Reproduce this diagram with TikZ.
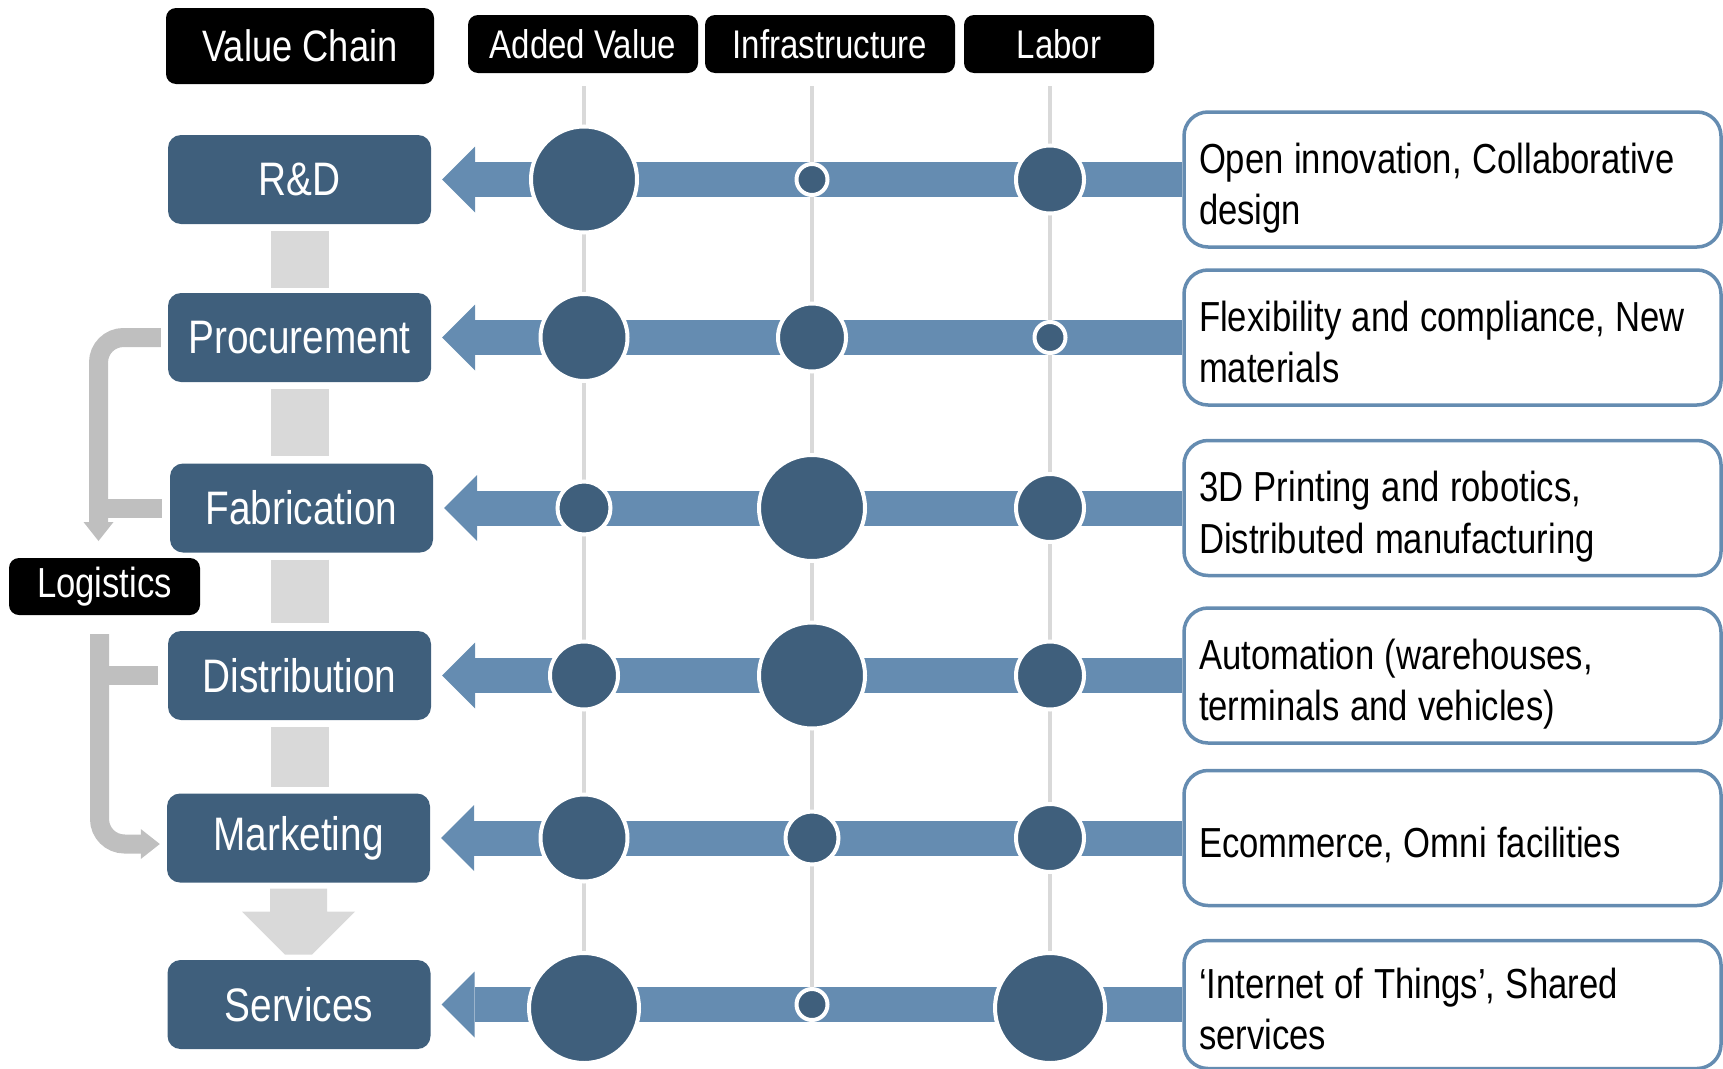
\documentclass[tikz,border=0pt]{standalone}
\usepackage{fontspec}
\setmainfont{Liberation Sans}[FakeStretch=0.825]
\usetikzlibrary{arrows.meta, calc}
\definecolor{stageblue}{HTML}{3F5F7C}
\definecolor{barblue}{HTML}{658CB1}
\definecolor{linkgray}{HTML}{D9D9D9}
\definecolor{loggray}{HTML}{BFBFBF}
\newcommand{\notefont}{\fontsize{42}{51.6}\selectfont}
\newcommand{\notelift}[1]{\spaceskip=0.25em\relax\xspaceskip=0.25em\relax\rule{0pt}{#1}}
\tikzset{
hdr/.style={fill=black, text=white, rounded corners=10pt, inner sep=0pt, minimum height=58pt, font=\fontsize{40}{48}\selectfont}, % black title boxes
stage/.style={fill=stageblue, text=white, rounded corners=13pt, inner sep=0pt, minimum width=263pt, minimum height=89pt, font=\fontsize{47}{56}\selectfont}, % value chain steps
note/.style={draw=barblue, line width=3.5pt, fill=white, rounded corners=24pt, minimum height=135pt, text width=507pt, inner xsep=15pt, align=left, font=\notefont,
  execute at begin node={\notelift{49pt}}, execute at end node={\rule[-10pt]{0pt}{10pt}}}, % text boxes on the right
dot/.style={circle, fill=stageblue, draw=white, line width=4pt, inner sep=0pt, minimum size=#1}, % impact circles
flowbar/.style={barblue, line width=35pt, -{Triangle[length=33pt, width=66pt, line width=0pt]}, shorten >=11pt},
vline/.style={linkgray, line width=4pt},
link/.style={linkgray, line width=58pt},
logi/.style={loggray, line width=19pt, rounded corners=25pt},
logitip/.style={-{Triangle[length=19pt, width=30pt, line width=0pt]}},
}

\begin{document}
\begin{tikzpicture}[x=1pt, y=-1pt]
\useasboundingbox (0,0) rectangle (1723,1068);

% column guides
\coordinate (av-top) at (584,86);
\coordinate (av-bot) at (584,1004.5);
\coordinate (inf-top) at (812,86);
\coordinate (inf-bot) at (812,1004.5);
\coordinate (lab-top) at (1050,86);
\coordinate (lab-bot) at (1050,1004.5);
\draw[vline] (av-top) -- (av-bot);
\draw[vline] (inf-top) -- (inf-bot);
\draw[vline] (lab-top) -- (lab-bot);

% headers
\node[hdr, minimum width=268pt, minimum height=76pt, font=\fontsize{44}{52}\selectfont] at (300,46) (vc) {Value Chain};
\node[hdr, minimum width=230pt] at (583,44) (av) {Added Value};
\node[hdr, minimum width=250pt] at (830,44) (inf) {Infrastructure};
\node[hdr, minimum width=190pt] at (1059,44) (lab) {Labor};
\node[hdr, minimum width=191pt, minimum height=57pt, font=\fontsize{42}{50}\selectfont] at (104.5,586.5) (lg) {Logistics};

% value chain steps
\node[stage] at (299.5,179.5) (rd) {R\&D};
\node[stage] at (299.5,337.5) (pr) {Procurement};
\node[stage] at (301.5,508) (fa) {Fabrication};
\node[stage] at (299.5,675.5) (di) {Distribution};
\node[stage] at (298.5,838) (mk) {Marketing};
\node[stage] at (299,1004.5) (sv) {Services};

% notes
\node[note] at (1452.5,179.5) (nrd) {Open innovation, Collaborative design};
\node[note] at (1452.5,337.5) (npr) {Flexibility and compliance, New materials};
\node[note] at (1452.5,508) (nfa) {3D Printing and robotics,\\Distributed manufacturing};
\node[note] at (1452.5,675.5) (ndi) {Automation (warehouses,\\terminals and vehicles)};
\node[note, execute at begin node={\notelift{38pt}}] at (1452.5,838) (nmk) {Ecommerce, Omni facilities};
\node[note, minimum height=128pt] at (1452.5,1004.5) (nsv) {‘Internet of Things’, Shared services};

% links between steps
\draw[link, shorten <=7pt, shorten >=5pt] (rd.south) -- (rd.south |- pr.north);
\draw[link, shorten <=7pt, shorten >=7pt] (pr.south) -- (pr.south |- fa.north);
\draw[link, shorten <=7pt, shorten >=8pt] (fa.south -| di.north) -- (di.north);
\draw[link, shorten <=7pt, shorten >=6pt] (di.south) -- (di.south |- mk.north);
\fill[linkgray] ($(mk.south)+(-28.5,6)$) -- ++(57,0) -- ++(0,23) -- ++(28,0) -- ++(-43,43)
  -- ++(-27,0) -- ++(-43,-43) -- ++(28,0) -- cycle;

% logistics brackets
\coordinate (lg-in) at (98.5,541);
\coordinate (lg-out) at (99.5,634);
\draw[logi, logitip, shorten <=7pt] (pr.west) -| (lg-in);
\draw[logi, shorten <=8pt] (fa.west) -- (fa.west -| lg-in);
\draw[logi, logitip, shorten >=7pt] (lg-out) |- ($(mk.west)+(0,6)$);
\draw[logi, shorten <=10pt] (di.west) -- (di.west -| lg-out);

% flows
\draw (nrd) edge[flowbar] (rd);
\draw (npr) edge[flowbar] (pr);
\draw (nfa) edge[flowbar] (fa);
\draw (ndi) edge[flowbar] (di);
\draw (nmk) edge[flowbar] (mk);
\draw (nsv) edge[flowbar] (sv);

% impact circles
\node[dot=106pt] at (584,179.5) (rd-av) {};
\node[dot=31pt] at (812,179.5) (rd-inf) {};
\node[dot=68pt] at (1050,179.5) (rd-lab) {};
\node[dot=87pt] at (584,337.5) (pr-av) {};
\node[dot=68pt] at (812,337.5) (pr-inf) {};
\node[dot=31pt] at (1050,337.5) (pr-lab) {};
\node[dot=53pt] at (584,508) (fa-av) {};
\node[dot=106pt] at (812,508) (fa-inf) {};
\node[dot=68pt] at (1050,508) (fa-lab) {};
\node[dot=68pt] at (584,675.5) (di-av) {};
\node[dot=106pt] at (812,675.5) (di-inf) {};
\node[dot=68pt] at (1050,675.5) (di-lab) {};
\node[dot=87pt] at (584,838) (mk-av) {};
\node[dot=53pt] at (812,838) (mk-inf) {};
\node[dot=68pt] at (1050,838) (mk-lab) {};
\node[dot=110pt] at (584,1008) (sv-av) {};
\node[dot=31pt] at (812,1004.5) (sv-inf) {};
\node[dot=110pt] at (1050,1008) (sv-lab) {};

\end{tikzpicture}
\end{document}
